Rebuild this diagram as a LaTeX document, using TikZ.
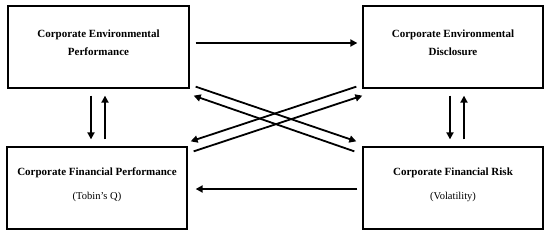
\documentclass[tikz,border=0pt]{standalone}
\usepackage{fontspec}
\setmainfont{Liberation Serif}
\usetikzlibrary{arrows.meta}
\begin{document}
\begin{tikzpicture}[x=1pt,y=-1pt,
  box/.style={draw=black,line width=1.3pt,rectangle,inner sep=0pt,minimum height=82pt},
  title/.style={font=\fontsize{11}{13}\selectfont\bfseries,inner sep=0pt},
  sub/.style={font=\fontsize{10.5}{12}\selectfont,inner sep=0pt},
  conn/.style={line width=1.8pt,-{Triangle[length=7pt,width=7pt]}},
  plain/.style={line width=1.8pt}]
\useasboundingbox (0,0) rectangle (550,236);
\fill[white] (0,0) rectangle (550,236);
% boxes
\node[box,minimum width=181pt] (cep) at (98.5,47) {};
\node[box,minimum width=180pt] (ced) at (453,47) {};
\node[box,minimum width=180pt] (cfp) at (97,188) {};
\node[box,minimum width=180pt] (cfr) at (453,188) {};
% texts
\node[title] (t1) at ([yshift=12pt]cep.center) {Corporate Environmental};
\node[title] (t2) at ([yshift=-5pt]cep.center) {Performance};
\node[title] (t3) at ([yshift=12pt]ced.center) {Corporate Environmental};
\node[title] (t4) at ([yshift=-5pt]ced.center) {Disclosure};
\node[title] (t5) at ([yshift=15pt]cfp.center) {Corporate Financial Performance};
\node[sub] (t6) at ([yshift=-9pt]cfp.center) {(Tobin’s Q)};
\node[title] (t7) at ([yshift=15pt]cfr.center) {Corporate Financial Risk};
\node[sub] (t8) at ([yshift=-9pt]cfr.center) {(Volatility)};
% horizontal arrows
\draw[conn] ([xshift=6pt,yshift=4pt]cep.east) -- ([xshift=-5pt,yshift=4pt]ced.west);
\draw[conn] ([xshift=-5pt,yshift=-1pt]cfr.west) -- ([xshift=8pt,yshift=-1pt]cfp.east);
% vertical left
\draw[conn] ([xshift=-7.5pt,yshift=-7pt]cep.south) -- ([xshift=-6pt,yshift=7pt]cfp.north);
\draw[conn] ([xshift=8pt,yshift=7pt]cfp.north) -- ([xshift=6.5pt,yshift=-7pt]cep.south);
% vertical right
\draw[conn] ([xshift=-3pt,yshift=-7pt]ced.south) -- ([xshift=-3pt,yshift=7pt]cfr.north);
\draw[conn] ([xshift=11pt,yshift=7pt]cfr.north) -- ([xshift=11pt,yshift=-7pt]ced.south);
% diagonals
\draw[conn] ([xshift=6pt,yshift=2pt]cep.south east) -- ([xshift=-6pt,yshift=5pt]cfr.north west);
\draw[conn] ([xshift=-8pt,yshift=-5pt]cfr.north west) -- ([xshift=4pt,yshift=-7pt]cep.south east);
\draw[conn] ([xshift=-6pt,yshift=2pt]ced.south west) -- ([xshift=3pt,yshift=5pt]cfp.north east);
\draw[conn] ([xshift=6pt,yshift=-5pt]cfp.north east) -- ([xshift=0pt,yshift=-7pt]ced.south west);
\end{tikzpicture}
\end{document}
